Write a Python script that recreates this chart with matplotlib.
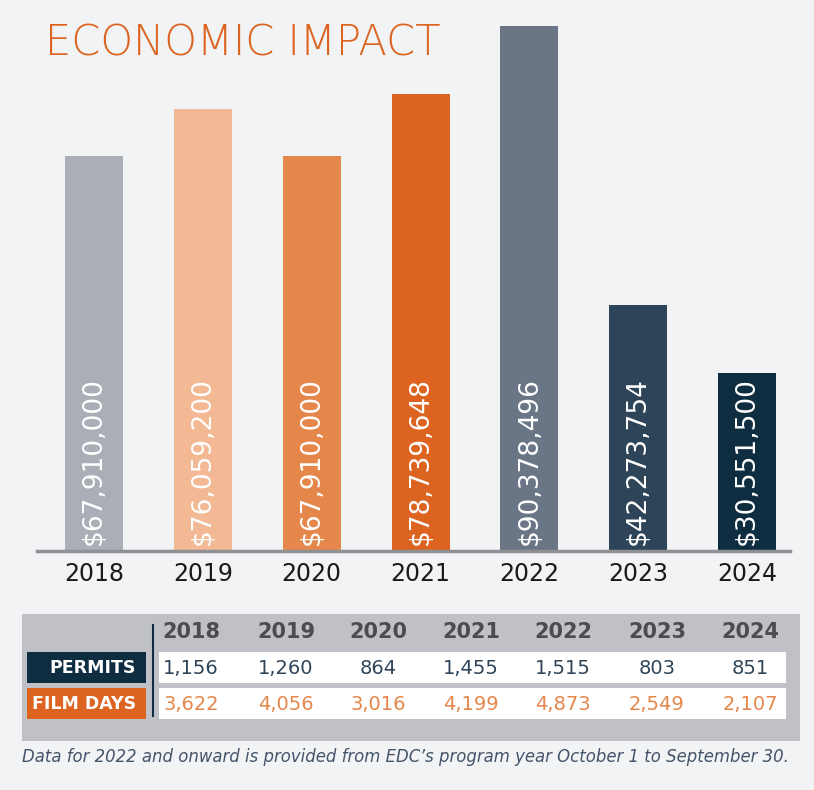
import matplotlib
matplotlib.use("Agg")
import matplotlib.pyplot as plt
from matplotlib.patches import Rectangle

# data
years = ["2018", "2019", "2020", "2021", "2022", "2023", "2024"]
impact = [67910000, 76059200, 67910000, 78739648, 90378496, 42273754, 30551500]
permits = ["1,156", "1,260", "864", "1,455", "1,515", "803", "851"]
film_days = ["3,622", "4,056", "3,016", "4,199", "4,873", "2,549", "2,107"]
bar_colors = ["#abaeb6", "#f2b994", "#e5874b", "#dd6420", "#6a7585", "#2e4458", "#0f2d40"]

BG = "#f2f3f5"
ORANGE = "#dd6420"
NAVY = "#0f2d40"

W, H = 814, 790
fig = plt.figure(figsize=(W / 100, H / 100), dpi=100, facecolor=BG)

# bar chart axes: baseline at y=551px, bars centred 94..747px
x_left, x_right = 37, 790
base_y = 551
ax = fig.add_axes([x_left / W, (H - base_y) / H, (x_right - x_left) / W, base_y / H])
ax.set_facecolor(BG)
px_per_unit = (747 - 94) / 6
ax.set_xlim(-(94 - x_left) / px_per_unit, 6 + (x_right - 747) / px_per_unit)
ax.set_ylim(0, base_y / 5.81 * 1e6)

xs = range(len(years))
ax.bar(xs, impact, width=58 / px_per_unit, color=bar_colors)
for x, v in zip(xs, impact):
    ax.text(x, impact[0] * 0.015, f"${v:,}", rotation=90, ha="center", va="bottom",
            color="white", fontsize=19, family="DejaVu Sans")

for s in ["top", "right", "left"]:
    ax.spines[s].set_visible(False)
ax.spines["bottom"].set_color("#8e9094")
ax.spines["bottom"].set_linewidth(2.5)
ax.set_yticks([])
ax.set_xticks(list(xs))
ax.set_xticklabels(years, fontsize=17, color="#1a1a1a")
ax.tick_params(axis="x", length=0, pad=8)

# overlay axes in pixel coordinates for title and table
ov = fig.add_axes([0, 0, 1, 1])
ov.set_xlim(0, W)
ov.set_ylim(H, 0)
ov.axis("off")
ov.patch.set_alpha(0)

ov.text(45, 43, "ECONOMIC IMPACT", color=ORANGE, fontsize=30, fontweight="light",
        family="DejaVu Sans", va="center", ha="left")

# table
ov.add_patch(Rectangle((22, 614), 778, 127, color="#bfc1c7", lw=0))
col_x = [191, 286, 378, 471, 563, 657, 750]
for cx, yr in zip(col_x, years):
    ov.text(cx, 632, yr, ha="center", va="center", fontsize=15, fontweight="bold",
            color="#4a4c51")
ov.plot([153, 153], [625, 716], color=NAVY, lw=1.5)

rows = [("PERMITS", permits, NAVY, "#2e4458", 652), ("FILM DAYS", film_days, ORANGE, "#e5874b", 688)]
for label, vals, box_color, txt_color, y0 in rows:
    ov.add_patch(Rectangle((27, y0), 119, 31, color=box_color, lw=0))
    ov.add_patch(Rectangle((159, y0), 627, 31, color="white", lw=0))
    ov.text(136, y0 + 16, label, ha="right", va="center", color="white", fontsize=12.5,
            fontweight="bold")
    for cx, v in zip(col_x, vals):
        ov.text(cx, y0 + 16, v, ha="center", va="center", color=txt_color, fontsize=14)

ov.text(22, 757, "Data for 2022 and onward is provided from EDC\u2019s program year October 1 to September 30.",
        ha="left", va="center", fontsize=11.9, style="italic", color="#44546a")

fig.savefig("out.png", dpi=100, facecolor=BG)
